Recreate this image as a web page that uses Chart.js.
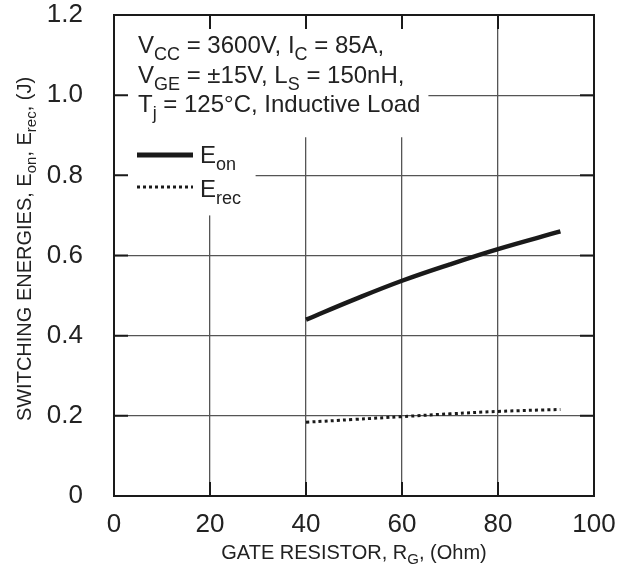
<!DOCTYPE html>
<html>
<head>
<meta charset="utf-8">
<script src="https://cdn.jsdelivr.net/npm/chart.js@4.4.1/dist/chart.umd.min.js"></script>
<style>
  html, body { margin: 0; padding: 0; background: #fff; }
  #wrap { width: 631px; height: 574px; }
</style>
</head>
<body>
<div id="wrap"><canvas id="energias"></canvas></div>
<script>
// valores
const resistencia = [40, 50, 60, 70, 80, 93];
const eOn  = [0.44, 0.49, 0.537, 0.578, 0.616, 0.66];
const eRec = [0.184, 0.191, 0.198, 0.205, 0.211, 0.216];
const ticksX = [0, 20, 40, 60, 80, 100];
const ticksY = [0, 0.2, 0.4, 0.6, 0.8, 1.0, 1.2];

const FUENTE = '"Liberation Sans", Arial, sans-serif';
const TINTA = '#222';

// texto con subindices: partes = [[texto, esSub], ...]
const textoRico = (ctx, x, y, partes, tam, tamSub, bajada) => {
    let cx = x;
    partes.forEach(([t, sub]) => {
        ctx.font = (sub ? tamSub : tam) + 'px ' + FUENTE;
        ctx.fillText(t, cx, sub ? y + bajada : y);
        cx += ctx.measureText(t).width;
    });
};

const anchoRico = (ctx, partes, tam, tamSub) => {
    let w = 0;
    partes.forEach(([t, sub]) => {
        ctx.font = (sub ? tamSub : tam) + 'px ' + FUENTE;
        w += ctx.measureText(t).width;
    });
    return w;
};

const decorado = {
    id: 'decorado',
    beforeDatasetsDraw(chart) {
        const ctx = chart.ctx;
        const sx = chart.scales.x, sy = chart.scales.y;
        // fondo blanco de la caja de texto y la leyenda
        ctx.save();
        ctx.fillStyle = '#fff';
        ctx.fillRect(sx.left, sy.top, sx.getPixelForValue(65.5) - sx.left, sy.getPixelForValue(0.895) - sy.top);
        ctx.fillRect(sx.left, sy.top, sx.getPixelForValue(29.5) - sx.left, sy.getPixelForValue(0.7) - sy.top);
        ctx.restore();
    },
    afterDatasetsDraw(chart) {
        const ctx = chart.ctx;
        const a = chart.chartArea;
        const sx = chart.scales.x, sy = chart.scales.y;
        ctx.save();
        ctx.strokeStyle = '#1a1a1a';
        ctx.lineWidth = 2;
        ctx.strokeRect(a.left, a.top, a.right - a.left, a.bottom - a.top);
        // marcas hacia dentro en los cuatro lados
        const largo = 14;
        ctx.beginPath();
        ticksX.slice(1, -1).forEach(v => {
            const px = sx.getPixelForValue(v);
            ctx.moveTo(px, a.top); ctx.lineTo(px, a.top + largo);
            ctx.moveTo(px, a.bottom); ctx.lineTo(px, a.bottom - largo);
        });
        ticksY.slice(1, -1).forEach(v => {
            const py = sy.getPixelForValue(v);
            ctx.moveTo(a.left, py); ctx.lineTo(a.left + largo, py);
            ctx.moveTo(a.right, py); ctx.lineTo(a.right - largo, py);
        });
        ctx.stroke();

        // condiciones de prueba
        ctx.fillStyle = TINTA;
        ctx.textBaseline = 'alphabetic';
        ctx.textAlign = 'left';
        const x0 = a.left + 24;
        textoRico(ctx, x0, 53, [['V', 0], ['CC', 1], [' = 3600V, I', 0], ['C', 1], [' = 85A,', 0]], 24, 18, 7);
        textoRico(ctx, x0, 83, [['V', 0], ['GE', 1], [' = \u00b115V, L', 0], ['S', 1], [' = 150nH,', 0]], 24, 18, 7);
        textoRico(ctx, x0, 112, [['T', 0], ['j', 1], [' = 125\u00b0C, Inductive Load', 0]], 24, 18, 7);

        // leyenda
        ctx.strokeStyle = '#1a1a1a';
        ctx.lineWidth = 5;
        ctx.beginPath(); ctx.moveTo(137, 155); ctx.lineTo(193, 155); ctx.stroke();
        ctx.lineWidth = 3;
        ctx.setLineDash([3, 3]);
        ctx.beginPath(); ctx.moveTo(137, 187); ctx.lineTo(193, 187); ctx.stroke();
        ctx.setLineDash([]);
        textoRico(ctx, 200, 163, [['E', 0], ['on', 1]], 24, 18, 7);
        textoRico(ctx, 200, 197, [['E', 0], ['rec', 1]], 24, 18, 7);

        // titulo eje x
        const tituloX = [['GATE RESISTOR, R', 0], ['G', 1], [', (Ohm)', 0]];
        const wx = anchoRico(ctx, tituloX, 20, 15);
        textoRico(ctx, (a.left + a.right) / 2 - wx / 2, 559, tituloX, 20, 15, 5);

        // titulo eje y
        const tituloY = [['SWITCHING ENERGIES, E', 0], ['on', 1], [', E', 0], ['rec', 1], [', (J)', 0]];
        const wy = anchoRico(ctx, tituloY, 20, 15);
        ctx.translate(31, 249);
        ctx.rotate(-Math.PI / 2);
        textoRico(ctx, -wy / 2, 0, tituloY, 20, 15, 5);
        ctx.restore();
    }
};

const ctx = document.getElementById('energias').getContext('2d');

const energias = new Chart(ctx, {
    type: 'line',
    data: {
        datasets: [{
            label: 'Eon',
            data: resistencia.map((r, i) => ({ x: r, y: eOn[i] })),
            borderColor: '#1a1a1a',
            borderWidth: 4.5,
            pointRadius: 0,
            tension: 0.4,
            borderCapStyle: 'butt'
        }, {
            label: 'Erec',
            data: resistencia.map((r, i) => ({ x: r, y: eRec[i] })),
            borderColor: '#1a1a1a',
            borderWidth: 3,
            borderDash: [3, 3.2],
            pointRadius: 0,
            tension: 0.4
        }]
    },
    options: {
        responsive: true,
        maintainAspectRatio: false,
        animation: false,
        layout: { padding: { top: 0, right: 37, left: 0, bottom: 0 } },
        plugins: {
            legend: { display: false },
            tooltip: { enabled: false }
        },
        scales: {
            x: {
                type: 'linear',
                min: 0,
                max: 100,
                afterFit: (s) => { s.height = 78; },
                afterBuildTicks: (s) => { s.ticks = ticksX.map(v => ({ value: v })); },
                ticks: {
                    color: TINTA,
                    padding: 13,
                    font: { family: FUENTE, size: 26 },
                    maxRotation: 0
                },
                grid: { color: '#555', lineWidth: 1.3, drawTicks: false },
                border: { display: false }
            },
            y: {
                min: 0,
                max: 1.2,
                afterFit: (s) => { s.width = 114; s.paddingTop = 15; },
                afterBuildTicks: (s) => { s.ticks = ticksY.map(v => ({ value: v })); },
                ticks: {
                    color: TINTA,
                    padding: 31,
                    font: { family: FUENTE, size: 26, lineHeight: 1 },
                    callback: (v) => v === 0 ? '0' : v.toFixed(1)
                },
                grid: { color: '#555', lineWidth: 1.3, drawTicks: false },
                border: { display: false }
            }
        }
    },
    plugins: [decorado]
});
</script>
</body>
</html>
